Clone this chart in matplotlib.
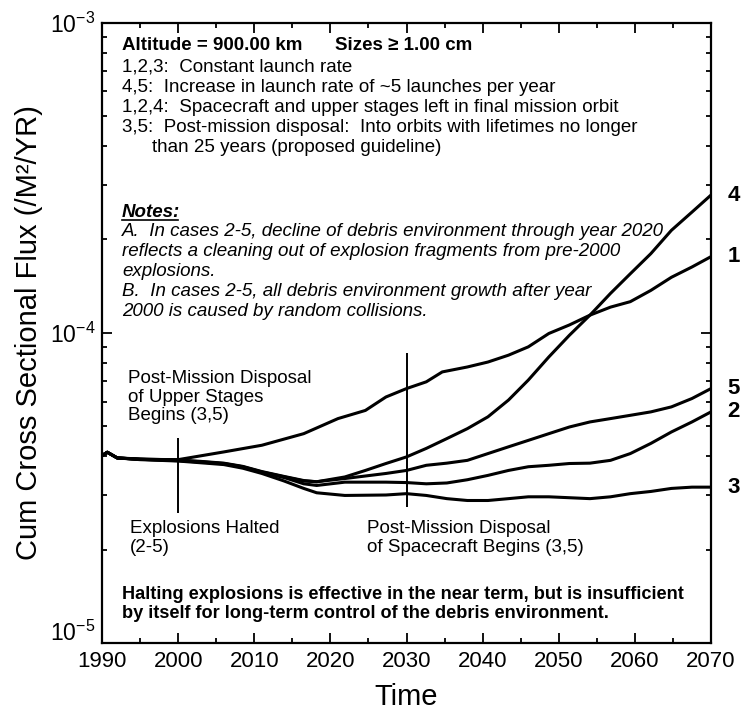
import numpy as np
import matplotlib
matplotlib.use("Agg")
import matplotlib.pyplot as plt
from matplotlib.ticker import LogLocator, MultipleLocator, NullFormatter
from matplotlib.lines import Line2D
from matplotlib.transforms import ScaledTranslation

plt.rcParams['font.family'] = ['Liberation Sans', 'DejaVu Sans']
plt.rcParams['mathtext.fontset'] = 'custom'
plt.rcParams['mathtext.rm'] = 'Liberation Sans'
plt.rcParams['mathtext.it'] = 'Liberation Sans:italic'
plt.rcParams['mathtext.bf'] = 'Liberation Sans:bold'

# ---------------- data ----------------
case_labels = ["1", "2", "3", "4", "5"]

case1_years = [1990, 1990.7, 1992, 1995, 2000, 2006, 2011, 2016.5, 2021, 2024.6, 2027.3, 2030,
               2032.6, 2034.7, 2038, 2040.7, 2043.4, 2046, 2048.7, 2051.4, 2054.1, 2056.8,
               2059.4, 2062.1, 2064.8, 2067.5, 2070]
case1_flux = [4.02e-5, 4.12e-5, 3.95e-5, 3.91e-5, 3.90e-5, 4.13e-5, 4.34e-5, 4.73e-5, 5.29e-5,
              5.62e-5, 6.21e-5, 6.61e-5, 6.95e-5, 7.48e-5, 7.76e-5, 8.05e-5, 8.47e-5, 9.01e-5,
              9.95e-5, 1.06e-4, 1.14e-4, 1.21e-4, 1.26e-4, 1.37e-4, 1.51e-4, 1.63e-4, 1.76e-4]

case2_years = [1990, 1990.7, 1992, 1995, 2000, 2003, 2006, 2008.5, 2011, 2014, 2016.5, 2018.2,
               2021.9, 2027.3, 2030, 2032.6, 2035.3, 2038, 2040.7, 2043.4, 2046, 2048.7,
               2051.4, 2054.1, 2056.8, 2059.4, 2062.1, 2064.8, 2067.5, 2070]
case2_flux = [4.02e-5, 4.12e-5, 3.95e-5, 3.91e-5, 3.87e-5, 3.83e-5, 3.78e-5, 3.69e-5, 3.55e-5,
              3.41e-5, 3.26e-5, 3.22e-5, 3.30e-5, 3.30e-5, 3.29e-5, 3.26e-5, 3.28e-5, 3.36e-5,
              3.47e-5, 3.60e-5, 3.70e-5, 3.74e-5, 3.79e-5, 3.80e-5, 3.88e-5, 4.08e-5, 4.40e-5,
              4.79e-5, 5.16e-5, 5.56e-5]

case3_years = [1990, 1990.7, 1992, 1995, 2000, 2003, 2006, 2008.5, 2011, 2013.9, 2016.5, 2018.2,
               2021.9, 2027.3, 2030, 2032.6, 2035.3, 2038, 2040.7, 2043.4, 2046, 2048.7,
               2051.4, 2054.1, 2056.8, 2059.4, 2062.1, 2064.8, 2067.5, 2070]
case3_flux = [4.02e-5, 4.12e-5, 3.95e-5, 3.90e-5, 3.86e-5, 3.81e-5, 3.76e-5, 3.66e-5, 3.52e-5,
              3.33e-5, 3.15e-5, 3.05e-5, 2.99e-5, 3.00e-5, 3.03e-5, 2.99e-5, 2.92e-5, 2.88e-5,
              2.88e-5, 2.92e-5, 2.96e-5, 2.96e-5, 2.94e-5, 2.92e-5, 2.96e-5, 3.03e-5, 3.08e-5,
              3.15e-5, 3.18e-5, 3.18e-5]

case4_years = [1990, 1990.7, 1992, 1995, 2000, 2003, 2006, 2008.5, 2011, 2014, 2016.5, 2018.2,
               2021.9, 2024.6, 2027.3, 2030, 2032.6, 2035.3, 2038, 2040.7, 2043.4, 2046,
               2048.7, 2051.4, 2054.1, 2056.8, 2059.4, 2062.1, 2064.8, 2067.5, 2070]
case4_flux = [4.02e-5, 4.12e-5, 3.95e-5, 3.92e-5, 3.89e-5, 3.85e-5, 3.80e-5, 3.71e-5, 3.57e-5,
              3.44e-5, 3.34e-5, 3.31e-5, 3.43e-5, 3.60e-5, 3.79e-5, 3.98e-5, 4.24e-5, 4.56e-5,
              4.91e-5, 5.36e-5, 6.07e-5, 7.04e-5, 8.36e-5, 9.82e-5, 1.14e-4, 1.34e-4, 1.55e-4,
              1.80e-4, 2.14e-4, 2.45e-4, 2.78e-4]

case5_years = [1990, 1990.7, 1992, 1995, 2000, 2003, 2006, 2008.5, 2011, 2014, 2016.5, 2018.2,
               2021.9, 2027.3, 2030, 2032.6, 2035.3, 2038, 2040.7, 2043.4, 2046, 2048.7,
               2051.4, 2054.1, 2056.8, 2059.4, 2062.1, 2064.8, 2067.5, 2070]
case5_flux = [4.02e-5, 4.12e-5, 3.95e-5, 3.91e-5, 3.88e-5, 3.84e-5, 3.79e-5, 3.70e-5, 3.56e-5,
              3.43e-5, 3.33e-5, 3.31e-5, 3.39e-5, 3.52e-5, 3.60e-5, 3.74e-5, 3.80e-5, 3.88e-5,
              4.08e-5, 4.29e-5, 4.50e-5, 4.73e-5, 4.97e-5, 5.16e-5, 5.29e-5, 5.42e-5, 5.56e-5,
              5.77e-5, 6.14e-5, 6.61e-5]

# event markers (vertical lines)
event_years = [2000, 2030]
event_low = [2.62e-5, 2.74e-5]
event_high = [4.57e-5, 8.59e-5]

x_ticks = [1990, 2000, 2010, 2020, 2030, 2040, 2050, 2060, 2070]
y_ticks = [1e-5, 1e-4, 1e-3]
y_tick_labels = [r"$10^{-5}$", r"$10^{-4}$", r"$10^{-3}$"]

header_bold = "Altitude = 900.00 km"
header_sizes = "Sizes \u2265 1.00 cm"
header_lines = ["1,2,3:  Constant launch rate",
                "4,5:  Increase in launch rate of ~5 launches per year",
                "1,2,4:  Spacecraft and upper stages left in final mission orbit",
                "3,5:  Post-mission disposal:  Into orbits with lifetimes no longer"]
header_cont = "than 25 years (proposed guideline)"
notes_title = "Notes:"
notes_lines = ["A.  In cases 2-5, decline of debris environment through year 2020",
               "reflects a cleaning out of explosion fragments from pre-2000",
               "explosions.",
               "B.  In cases 2-5, all debris environment growth after year",
               "2000 is caused by random collisions."]
ann_upper = "Post-Mission Disposal\nof Upper Stages\nBegins (3,5)"
ann_halted = "Explosions Halted\n(2-5)"
ann_sc = "Post-Mission Disposal\nof Spacecraft Begins (3,5)"
conclusion = ("Halting explosions is effective in the near term, but is insufficient\n"
              "by itself for long-term control of the debris environment.")

# ---------------- figure ----------------
W, H = 746, 719
fig = plt.figure(figsize=(W / 100, H / 100), dpi=100)
L, R, T, B = 102, 711, 22.6, 643
ax = fig.add_axes([L / W, (H - B) / H, (R - L) / W, (B - T) / H])

series = [(case1_years, case1_flux), (case2_years, case2_flux), (case3_years, case3_flux),
          (case4_years, case4_flux), (case5_years, case5_flux)]
for (yr, fl), lab in zip(series, case_labels):
    ax.plot(yr, fl, color='black', lw=2.2, solid_joinstyle='round', solid_capstyle='round')
    ax.annotate(lab, xy=(yr[-1], fl[-1]), xytext=(12, 0), textcoords='offset points',
                ha='left', va='center', fontsize=16, fontweight='bold', annotation_clip=False)

for ex, lo, hi in zip(event_years, event_low, event_high):
    ax.vlines(ex, lo, hi, color='black', lw=1.4)

ax.set_yscale('log')
ax.set_xlim(1990, 2070)
ax.set_ylim(1e-5, 1e-3)
ax.set_xticks(x_ticks)
ax.xaxis.set_minor_locator(MultipleLocator(5))
ax.set_yticks(y_ticks)
ax.set_yticklabels(y_tick_labels)
ax.yaxis.set_minor_locator(LogLocator(base=10, subs=np.arange(2, 10), numticks=20))
ax.yaxis.set_minor_formatter(NullFormatter())
ax.tick_params(which='both', direction='in', top=True, right=True, width=1.3)
ax.tick_params(which='major', length=7)
ax.tick_params(which='minor', length=3.5)
ax.tick_params(axis='x', labelsize=16, pad=6)
ax.tick_params(axis='y', labelsize=16.5, pad=5)
for s in ax.spines.values():
    s.set_linewidth(1.6)

# lift the bottom y label a little (as in the reference)
ylabs = ax.get_yticklabels()
ylabs[0].set_transform(ylabs[0].get_transform() + ScaledTranslation(0, 9 / 72, fig.dpi_scale_trans))

ax.set_xlabel("Time", fontsize=21, labelpad=8)
ax.set_ylabel("Cum Cross Sectional Flux (/M\u00b2/YR)", fontsize=21, labelpad=5)


def fx(px):
    return (px - L) / (R - L)


def fy(py):
    return (B - py) / (B - T)


tr = ax.transAxes
ax.text(fx(122), fy(45), header_bold, transform=tr, fontsize=13.5, fontweight='bold', va='center')
ax.text(fx(335), fy(45), header_sizes, transform=tr, fontsize=13.5, fontweight='bold', va='center')
for i, line in enumerate(header_lines):
    ax.text(fx(122), fy(67 + 20.3 * i), line, transform=tr, fontsize=13.5, va='center')
ax.text(fx(152), fy(148), header_cont, transform=tr, fontsize=13.5, va='center')

nt = ax.text(fx(122), fy(212), notes_title, transform=tr, fontsize=13.5, fontweight='bold',
             fontstyle='italic', va='center')
for i, line in enumerate(notes_lines):
    ax.text(fx(122), fy(232 + 20 * i), line, transform=tr, fontsize=13.5, fontstyle='italic',
            va='center')

ax.text(fx(128), fy(397), ann_upper, transform=tr, fontsize=13.5, va='center', linespacing=1.15)
ax.text(fx(130), fy(538), ann_halted, transform=tr, fontsize=13.5, va='center', linespacing=1.15)
ax.text(fx(367), fy(538), ann_sc, transform=tr, fontsize=13.5, va='center', linespacing=1.15)
ax.text(fx(122), fy(604), conclusion, transform=tr, fontsize=13.1, fontweight='bold',
        va='center', linespacing=1.2)

# underline "Notes:"
fig.canvas.draw()
bb = nt.get_window_extent()
fig.add_artist(Line2D([bb.x0 / W, (bb.x1 - 2) / W], [(bb.y0 + 1) / H, (bb.y0 + 1) / H],
                      color='black', lw=1.2, transform=fig.transFigure))

fig.savefig("out.png", dpi=100)
